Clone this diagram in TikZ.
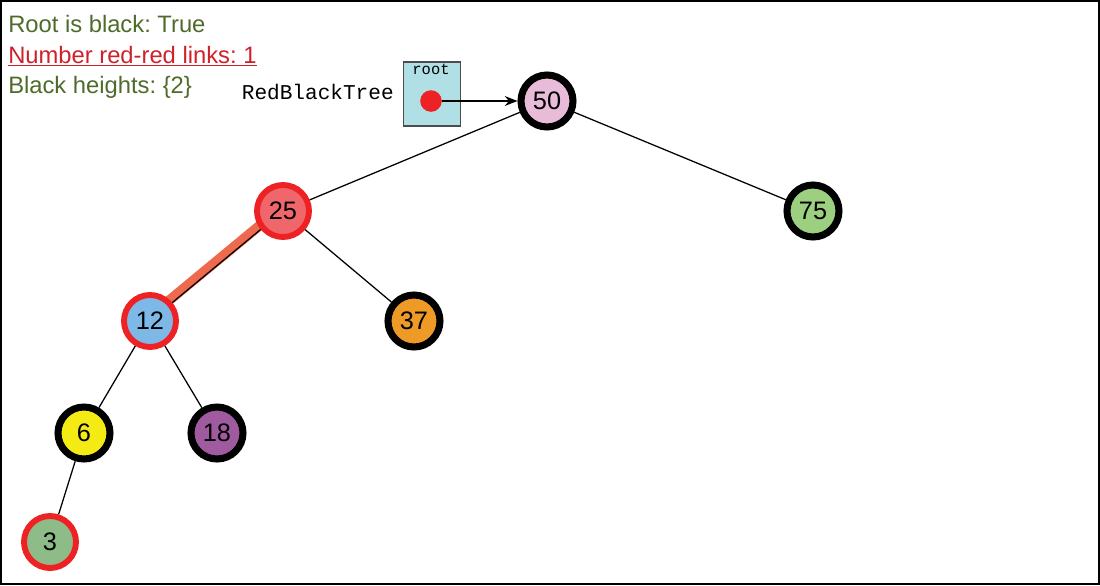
\documentclass[tikz,border=0pt]{standalone}
\usepackage{fontspec}
\setmainfont{Liberation Sans}
\setmonofont{Liberation Mono}
\frenchspacing
\usetikzlibrary{positioning,arrows.meta,backgrounds}
\definecolor{okgreen}{HTML}{4F6B2B}
\definecolor{badred}{HTML}{D0202A}
\definecolor{ringred}{HTML}{EE2125}
\definecolor{linkred}{HTML}{EE6A4E}
\definecolor{boxblue}{HTML}{B0E0E6}
\definecolor{c50}{HTML}{E8BBD8}
\definecolor{c25}{HTML}{F0676B}
\definecolor{c75}{HTML}{9CCF7F}
\definecolor{c12}{HTML}{7DB8E6}
\definecolor{c37}{HTML}{EE9A27}
\definecolor{c6}{HTML}{F5EB14}
\definecolor{c18}{HTML}{9F5AA0}
\definecolor{c3}{HTML}{8DBC88}
\begin{document}
\begin{tikzpicture}[on grid,
	nodes={font=\fontsize{18}{21}\selectfont},
	blknode/.style={draw=black, circle, line width=5pt, minimum size=1.3cm, inner sep=0pt},
	rednode/.style={draw=ringred, circle, line width=4.2pt, minimum size=1.3cm, inner sep=0pt},
	info/.style={anchor=base west, inner sep=0pt, font=\fontsize{16.9}{20}\selectfont}]
	\useasboundingbox (0,0) rectangle (27.5,-14.625);
	\draw[line width=1pt] (0.025,-0.025) rectangle (27.475,-14.6);
	
	\node (isblack) [info, text=okgreen] at (0.2,-0.8) {Root is black: True};
	\node (redred) [info, text=badred] at (0.2,-1.575) {\underline{Number red-red links: 1}};
	\node (heights) [info, text=okgreen] at (0.2,-2.325) {Black heights: \{2\}};
	
	\node (tree) [anchor=base east, inner sep=0pt, font=\ttfamily\fontsize{15}{18}\selectfont] at (9.85,-2.475) {RedBlackTree};
	\node (box) [draw=black!70, fill=boxblue, line width=0.8pt, minimum width=1.425cm, minimum height=1.6cm] at (10.81,-2.35) {};
	\node (rootlbl) [anchor=base, inner sep=0pt, font=\ttfamily\fontsize{11}{12}\selectfont] at (10.775,-1.85) {root};
	\node (dot) [circle, fill=ringred, minimum size=0.54cm, inner sep=0pt] at (10.775,-2.525) {};
	
	\node (n50) [blknode, fill=c50] at (13.675,-2.525) {50};
	\node (n25) [rednode, fill=c25, below left=2.75cm and 6.6cm of n50] {25};
	\node (n75) [blknode, fill=c75, below right=2.75cm and 6.65cm of n50] {75};
	\node (n12) [rednode, fill=c12, below left=2.75cm and 3.325cm of n25] {12};
	\node (n37) [blknode, fill=c37, below right=2.75cm and 3.275cm of n25] {37};
	\node (n6) [blknode, fill=c6, below left=2.8cm and 1.65cm of n12] {6};
	\node (n18) [blknode, fill=c18, below right=2.8cm and 1.675cm of n12] {18};
	\node (n3) [rednode, fill=c3, below left=2.725cm and 0.85cm of n6] {3};
	
	\begin{scope}[on background layer]
	\draw[linkred, line width=7pt] ([shift={(-0.06,0.07)}]n25.center) -- ([shift={(-0.06,0.07)}]n12.center);
	\end{scope}
	
	\draw[-{Stealth[length=9pt,width=7pt]}, line width=1pt] (dot) -- (n50);
	\draw[line width=0.9pt] (n50) -- (n25);
	\draw[line width=0.9pt] (n50) -- (n75);
	\draw[line width=0.9pt] (n25) -- (n12);
	\draw[line width=0.9pt] (n25) -- (n37);
	\draw[line width=0.9pt] (n12) -- (n6);
	\draw[line width=0.9pt] (n12) -- (n18);
	\draw[line width=0.9pt] (n6) -- (n3);
\end{tikzpicture}
\end{document}
